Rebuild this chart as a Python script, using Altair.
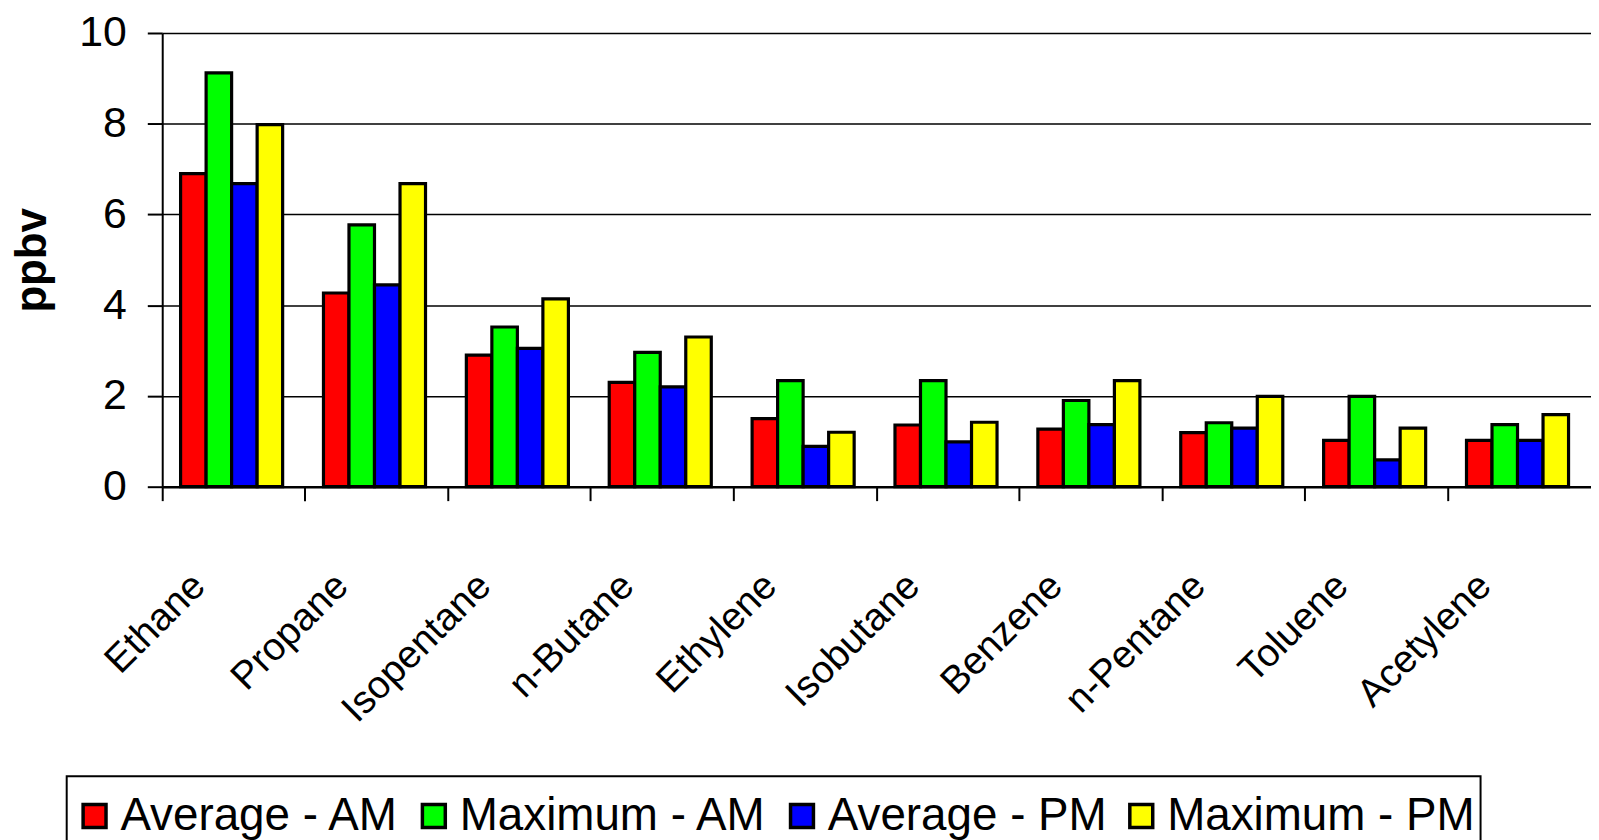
import altair as alt
import pandas as pd

categories = ["Ethane", "Propane", "Isopentane", "n-Butane", "Ethylene",
              "Isobutane", "Benzene", "n-Pentane", "Toluene", "Acetylene"]
series_names = ["Average - AM", "Maximum - AM", "Average - PM", "Maximum - PM"]
series_colors = ["#FF0000", "#00FF00", "#0000FF", "#FFFF00"]

avg_am = [6.9, 4.27, 2.9, 2.3, 1.5, 1.36, 1.27, 1.19, 1.02, 1.02]
max_am = [9.12, 5.77, 3.52, 2.96, 2.34, 2.34, 1.9, 1.41, 1.99, 1.37]
avg_pm = [6.68, 4.45, 3.05, 2.2, 0.89, 0.99, 1.37, 1.29, 0.59, 1.02]
max_pm = [7.98, 6.68, 4.14, 3.3, 1.2, 1.42, 2.34, 1.99, 1.29, 1.59]

y_ticks = [0, 2, 4, 6, 8, 10]

rows = []
for i, c in enumerate(categories):
    for s, vals in zip(series_names, [avg_am, max_am, avg_pm, max_pm]):
        rows.append({"compound": c, "series": s, "value": vals[i]})
df = pd.DataFrame(rows)

FONT = "Liberation Sans"

chart = alt.Chart(df).mark_bar(stroke="black", strokeWidth=3.2, strokeJoin="miter").encode(
    x=alt.X("compound:N", sort=categories,
            scale=alt.Scale(paddingInner=0, paddingOuter=0),
            axis=alt.Axis(title=None, labelAngle=-45, labelAlign="right", labelBaseline="middle",
                          labelFontSize=39, labelFont=FONT, labelColor="black",
                          bandPosition=0, labelOffset=-35, labelPadding=79,
                          tickSize=14, tickWidth=2, tickColor="black",
                          domainColor="black", domainWidth=2.5, grid=False, labelLimit=1000)),
    xOffset=alt.XOffset("series:N", sort=series_names,
                        scale=alt.Scale(paddingInner=0, paddingOuter=0.8, align=0.45)),
    y=alt.Y("value:Q", scale=alt.Scale(domain=[0, 10], nice=False),
            axis=alt.Axis(values=y_ticks, format="d", labelFontSize=43, labelFont=FONT,
                          labelColor="black", labelPadding=21, tickSize=15, tickColor="black",
                          tickWidth=2, domainColor="black", domainWidth=2, grid=True,
                          gridColor="black", gridWidth=1.5, gridOpacity=1,
                          title="ppbv", titleFont=FONT, titleFontSize=44, titleFontWeight="bold",
                          titleColor="black", titleX=-108, titleY=228, titleAngle=270,
                          titleBaseline="bottom", titleAlign="center")),
    color=alt.Color("series:N", sort=series_names,
                    scale=alt.Scale(domain=series_names, range=series_colors),
                    legend=alt.Legend(orient="none", legendX=-96, legendY=747,
                                      direction="horizontal", columns=4,
                                      title=" ", titleFontSize=2, titlePadding=10,
                                      symbolType="square", symbolSize=530,
                                      symbolStrokeColor="black", symbolStrokeWidth=3.5,
                                      symbolOpacity=1,
                                      labelFontSize=46, labelFont=FONT, labelColor="black",
                                      labelOffset=3, columnPadding=11, padding=5,
                                      strokeColor="black", labelLimit=1000))
).properties(
    width=1436, height=456,
    autosize=alt.AutoSizeParams(type="none"),
    padding={"left": 155, "top": 23, "right": 0, "bottom": 360},
    background="white",
).configure_view(stroke=None).configure_legend(strokeWidth=2)

chart.save("out.html", embed_options={"renderer": "svg", "actions": False})
